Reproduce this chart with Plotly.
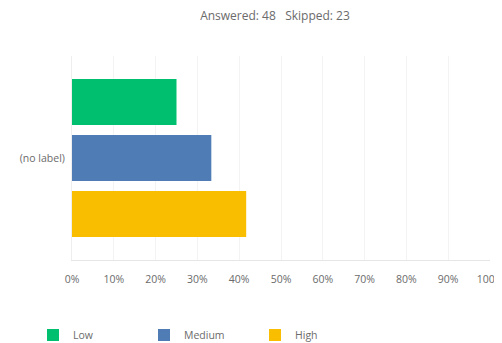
import plotly.graph_objects as go

categories = ["(no label)"]
series_names = ["Low", "Medium", "High"]
series_values = [[25.0], [33.33], [41.67]]
series_colors = ["#00BF6F", "#507CB6", "#F9BE00"]
tick_vals = [0, 10, 20, 30, 40, 50, 60, 70, 80, 90, 100]
tick_text = ["0%", "10%", "20%", "30%", "40%", "50%", "60%", "70%", "80%", "90%", "100%"]
title_text = "Answered: 48   Skipped: 23"

fig = go.Figure()
for name, vals, col in zip(series_names, series_values, series_colors):
    fig.add_trace(go.Bar(
        y=categories, x=vals, name=name, orientation="h",
        marker=dict(color=col, line=dict(width=0)),
    ))

font_family = "Open Sans, Roboto, sans-serif"
# the page body adds an 8px offset, so the figure is sized to the remaining area
W, H = 494, 335
fig.update_layout(
    width=W, height=H,
    margin=dict(l=64, r=12, t=48, b=83, autoexpand=False),
    paper_bgcolor="white", plot_bgcolor="white",
    barmode="group", bargap=0.176, bargroupgap=0.18,
    font=dict(family=font_family, size=10.5, color="#6b6b6b"),
    title=dict(text=title_text, x=0.4856, xanchor="center", xref="paper",
               y=1 - 8 / H, yanchor="middle", yref="container",
               font=dict(size=12, color="#6b6b6b", family=font_family)),
    xaxis=dict(range=[0, 100], tickvals=tick_vals, ticktext=tick_text,
               showgrid=True, gridcolor="#f3f3f3", zeroline=False,
               showline=True, linecolor="#e6e6e6", ticks="", ticklabelstandoff=9,
               ticklabeloverflow="allow", automargin=False, fixedrange=True),
    yaxis=dict(autorange="reversed", showgrid=False, zeroline=False,
               showline=True, linecolor="#eeeeee", ticks="", ticklabelstandoff=4,
               automargin=False),
    legend=dict(orientation="h", x=25 / W, xanchor="left", xref="container",
                y=1 - 327 / H, yanchor="middle", yref="container",
                entrywidth=66, entrywidthmode="pixels",
                font=dict(size=10.5, color="#6b6b6b")),
    showlegend=True,
)

fig.write_html("out.html")
